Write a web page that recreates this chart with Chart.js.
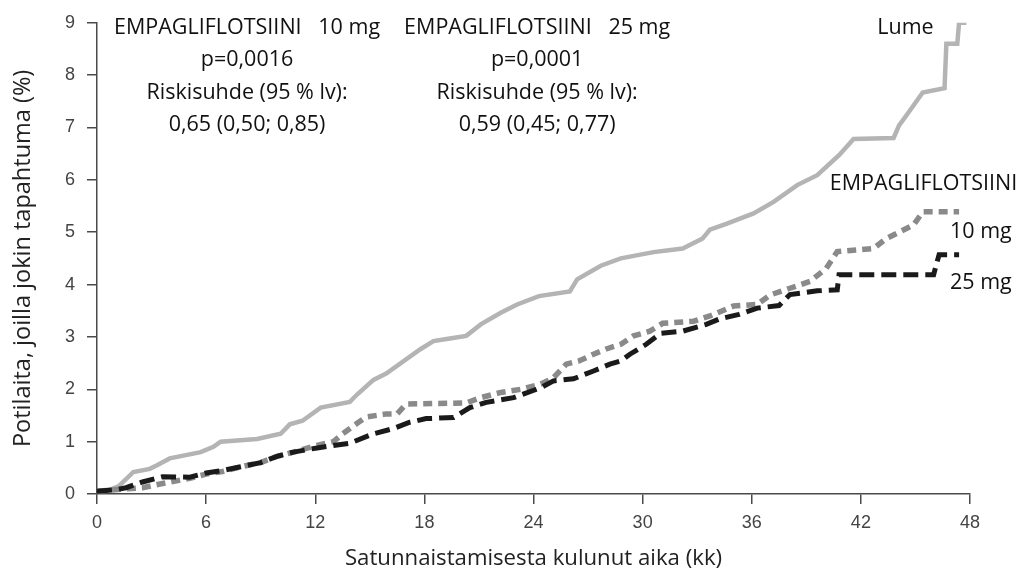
<!DOCTYPE html>
<html>
<head>
<meta charset="utf-8">
<script src="https://cdn.jsdelivr.net/npm/chart.js@4/dist/chart.umd.min.js"></script>
<style>
  html, body { margin: 0; padding: 0; background: #fff; }
  #wrap { width: 1024px; height: 572px; position: relative; }
</style>
</head>
<body>
<div id="wrap"><canvas id="c" width="1024" height="572"></canvas></div>
<script>
// ---- Data (months since randomisation, cumulative % of patients with event) ----
const lumeX = [0, 0.7, 1.2, 2.0, 2.9, 3.3, 4.0, 5.7, 6.4, 6.8, 8.8, 10.1, 10.6, 11.3, 12.3, 13.9, 14.3, 15.2, 15.9, 17.8, 18.5, 19.4, 20.3, 21.1, 22.2, 23.1, 24.3, 26.0, 26.4, 27.7, 28.8, 30.6, 32.2, 33.3, 33.7, 34.6, 36.1, 37.2, 38.5, 39.6, 40.8, 41.6, 43.8, 44.1, 44.5, 45.4, 46.6, 46.7, 47.3, 47.4, 47.8];
const lumeY = [0.05, 0.08, 0.15, 0.42, 0.48, 0.55, 0.68, 0.8, 0.9, 1.0, 1.05, 1.15, 1.33, 1.4, 1.65, 1.76, 1.9, 2.18, 2.3, 2.77, 2.92, 2.97, 3.02, 3.24, 3.46, 3.62, 3.78, 3.87, 4.1, 4.36, 4.5, 4.62, 4.69, 4.88, 5.05, 5.16, 5.36, 5.58, 5.9, 6.09, 6.47, 6.78, 6.8, 7.04, 7.23, 7.67, 7.75, 8.6, 8.6, 9.0, 9.0];

const emp10X = [0, 1.6, 2.5, 3.6, 5.1, 6.0, 6.9, 7.9, 9.0, 9.9, 10.8, 12.1, 13.0, 13.5, 14.3, 14.8, 15.9, 16.5, 17.0, 20.3, 21.1, 22.2, 23.3, 24.4, 25.1, 25.8, 26.5, 27.3, 28.0, 28.8, 29.5, 30.4, 31.1, 32.8, 33.7, 35.0, 36.3, 37.0, 38.1, 39.2, 40.1, 40.7, 42.7, 43.4, 44.9, 45.4, 47.4];
const emp10Y = [0.05, 0.1, 0.12, 0.2, 0.3, 0.38, 0.43, 0.52, 0.6, 0.72, 0.8, 0.93, 1.0, 1.15, 1.35, 1.47, 1.53, 1.53, 1.72, 1.74, 1.84, 1.94, 2.0, 2.1, 2.22, 2.48, 2.54, 2.67, 2.77, 2.86, 3.02, 3.11, 3.26, 3.3, 3.4, 3.59, 3.62, 3.8, 3.93, 4.06, 4.31, 4.63, 4.69, 4.88, 5.14, 5.39, 5.39];

const emp25X = [0, 1.0, 1.6, 2.5, 3.6, 5.1, 6.0, 6.9, 7.9, 9.0, 9.9, 10.8, 12.1, 13.9, 15.2, 16.3, 17.2, 18.1, 19.6, 20.5, 21.4, 22.9, 24.4, 25.1, 26.2, 27.3, 28.2, 28.8, 29.3, 30.2, 31.0, 32.2, 33.5, 34.2, 35.3, 36.3, 37.5, 38.1, 39.6, 40.7, 40.8, 46.0, 46.3, 47.4];
const emp25Y = [0.05, 0.08, 0.12, 0.23, 0.33, 0.32, 0.4, 0.45, 0.52, 0.6, 0.72, 0.8, 0.88, 0.97, 1.15, 1.25, 1.37, 1.44, 1.46, 1.65, 1.75, 1.84, 2.03, 2.16, 2.2, 2.35, 2.48, 2.54, 2.67, 2.86, 3.07, 3.11, 3.24, 3.34, 3.43, 3.55, 3.6, 3.81, 3.88, 3.9, 4.19, 4.19, 4.57, 4.57];

const xTicks = [0, 6, 12, 18, 24, 30, 36, 42, 48];
const yTicks = [0, 1, 2, 3, 4, 5, 6, 7, 8, 9];

const xTitle = 'Satunnaistamisesta kulunut aika (kk)';
const yTitle = 'Potilaita, joilla jokin tapahtuma (%)';

const note10 = ['EMPAGLIFLOTSIINI   10 mg', 'p=0,0016', 'Riskisuhde (95 % lv):', '0,65 (0,50; 0,85)'];
const note25 = ['EMPAGLIFLOTSIINI   25 mg', 'p=0,0001', 'Riskisuhde (95 % lv):', '0,59 (0,45; 0,77)'];
const seriesLabels = ['Lume', 'EMPAGLIFLOTSIINI', '10 mg', '25 mg'];

function pts(xs, ys) { return xs.map((x, i) => ({ x: x, y: ys[i] })); }

const TEXT_FONT = '"Open Sans", "Lato", sans-serif';
const TICK_FONT = '"Liberation Sans", Arial, sans-serif';

const annot = {
  id: 'annot',
  afterDraw(chart) {
    const ctx = chart.ctx;
    const xs = chart.scales.x, ys = chart.scales.y;
    ctx.save();
    ctx.fillStyle = '#111';
    ctx.font = '21.5px ' + TEXT_FONT;
    ctx.textBaseline = 'middle';
    ctx.textAlign = 'center';
    const lineGap = 32.3;
    const drawBlock = (lines, cx) => {
      const px = xs.getPixelForValue(cx);
      const py = ys.getPixelForValue(8.9);
      lines.forEach((t, i) => ctx.fillText(t, px, py + i * lineGap));
    };
    drawBlock(note10, 8.25);
    drawBlock(note25, 24.2);
    ctx.textAlign = 'right';
    ctx.fillText(seriesLabels[0], xs.getPixelForValue(46.0), ys.getPixelForValue(8.9));
    ctx.fillText(seriesLabels[1], xs.getPixelForValue(50.6), ys.getPixelForValue(5.92));
    ctx.textAlign = 'left';
    ctx.fillText(seriesLabels[2], xs.getPixelForValue(46.9), ys.getPixelForValue(5.0));
    ctx.fillText(seriesLabels[3], xs.getPixelForValue(46.9), ys.getPixelForValue(4.04));
    ctx.restore();
  }
};

new Chart(document.getElementById('c'), {
  type: 'line',
  data: {
    datasets: [
      { label: '25 mg', data: pts(emp25X, emp25Y), borderColor: '#1a1a1a', borderWidth: 5, borderDash: [15, 7], borderCapStyle: 'butt', pointRadius: 0, tension: 0, order: 0, fill: false },
      { label: '10 mg', data: pts(emp10X, emp10Y), borderColor: '#8a8a8a', borderWidth: 5.5, borderDash: [9, 6], borderCapStyle: 'butt', pointRadius: 0, tension: 0, order: 1, fill: false },
      { label: 'Lume', data: pts(lumeX, lumeY), borderColor: '#b4b4b4', borderWidth: 4.5, pointRadius: 0, tension: 0, order: 2, fill: false }
    ]
  },
  options: {
    responsive: false,
    animation: false,
    devicePixelRatio: 1,
    layout: { padding: { left: 0, right: 54, top: 20, bottom: 0 } },
    plugins: { legend: { display: false }, tooltip: { enabled: false } },
    scales: {
      x: {
        type: 'linear', min: 0, max: 48,
        afterFit: s => { s.height = 78; },
        afterBuildTicks: s => { s.ticks = xTicks.map(v => ({ value: v })); },
        border: { display: true, color: '#4a4a4a', width: 1.5 },
        grid: { display: true, drawOnChartArea: false, drawTicks: true, tickLength: 10, color: '#4a4a4a', lineWidth: 1.5 },
        ticks: { color: '#444', padding: 8, font: { family: TICK_FONT, size: 18 }, maxRotation: 0 },
        title: { display: true, text: xTitle, color: '#222', font: { family: TEXT_FONT, size: 22.2 }, padding: { top: 0, bottom: 0 } }
      },
      y: {
        type: 'linear', min: 0, max: 9,
        afterFit: s => { s.width = 97; },
        afterBuildTicks: s => { s.ticks = yTicks.map(v => ({ value: v })); },
        border: { display: true, color: '#4a4a4a', width: 1.5 },
        grid: { display: true, drawOnChartArea: false, drawTicks: true, tickLength: 10, color: '#4a4a4a', lineWidth: 1.5 },
        ticks: { color: '#444', padding: 12, font: { family: TICK_FONT, size: 18 } },
        title: { display: true, text: yTitle, color: '#222', font: { family: TEXT_FONT, size: 23.5 }, padding: { top: 9, bottom: 0 } }
      }
    }
  },
  plugins: [annot]
});
</script>
</body>
</html>
